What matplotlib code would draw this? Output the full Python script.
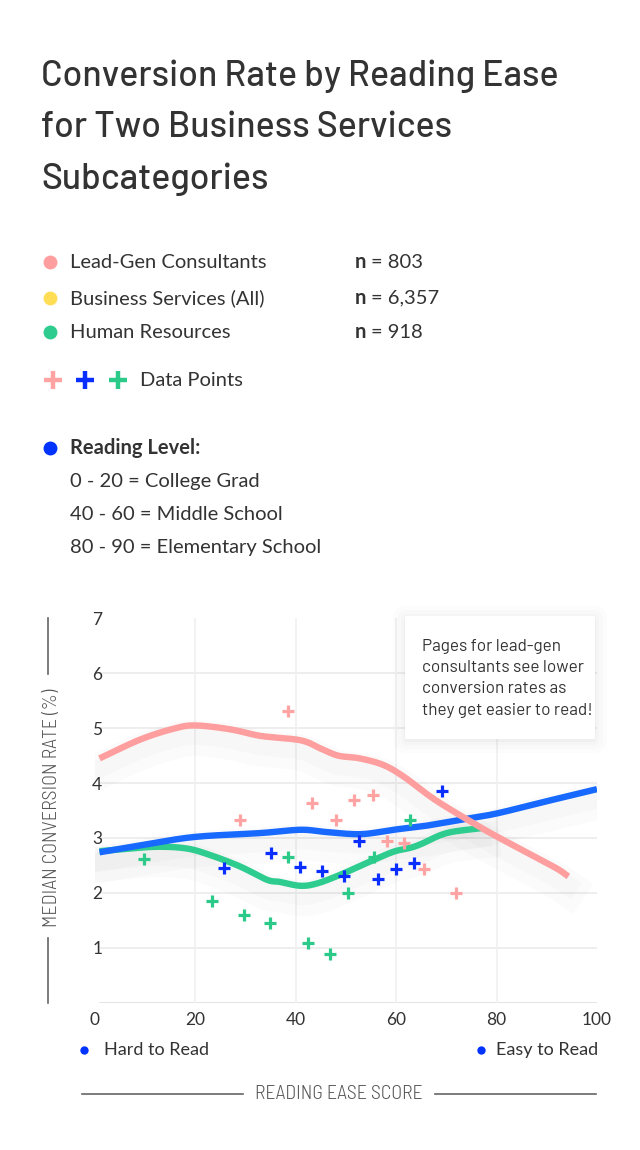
import numpy as np
import matplotlib
matplotlib.use("Agg")
import matplotlib.pyplot as plt
from matplotlib import patheffects as pe
from matplotlib import font_manager as fm
from matplotlib.patches import FancyBboxPatch

# ---------------- data ----------------
leadgen_x = [1, 9, 15.7, 20, 27, 33, 41, 45, 48.5, 52.8, 57.5, 61.5, 66, 69.4, 75.4, 80.2, 91.3, 94.3]
leadgen_y = [4.45, 4.79, 4.99, 5.05, 4.98, 4.86, 4.78, 4.63, 4.5, 4.45, 4.33, 4.12, 3.81, 3.6, 3.27, 3.02, 2.48, 2.30]

allbiz_x = [1, 10, 20, 33, 41, 46, 53, 59.5, 65, 69, 74.7, 80.2, 90, 100]
allbiz_y = [2.74, 2.88, 3.02, 3.09, 3.15, 3.11, 3.07, 3.15, 3.21, 3.27, 3.36, 3.45, 3.67, 3.89]

hr_x = [1, 6, 12.4, 18.3, 23, 29, 34.3, 36.9, 40.9, 44.2, 48.9, 54.8, 59.5, 62.8, 65, 70.1, 77]
hr_y = [2.76, 2.8, 2.84, 2.81, 2.69, 2.48, 2.24, 2.2, 2.13, 2.17, 2.33, 2.57, 2.75, 2.82, 2.89, 3.09, 3.18]

leadgen_pts_x = [38.6, 29.0, 43.3, 48.1, 51.7, 55.4, 58.3, 61.6, 65.6, 71.9]
leadgen_pts_y = [5.31, 3.32, 3.64, 3.33, 3.69, 3.78, 2.95, 2.91, 2.44, 2.00]

allbiz_pts_x = [25.8, 35.2, 40.9, 45.3, 49.7, 52.7, 56.4, 60.0, 63.6, 69.2]
allbiz_pts_y = [2.45, 2.73, 2.48, 2.40, 2.30, 2.95, 2.25, 2.44, 2.54, 3.86]

hr_pts_x = [9.85, 23.4, 29.75, 34.9, 38.6, 42.5, 46.9, 50.4, 55.6, 62.8]
hr_pts_y = [2.61, 1.86, 1.60, 1.46, 2.66, 1.09, 0.89, 2.00, 2.66, 3.32]

series_names = ["Lead-Gen Consultants", "Business Services (All)", "Human Resources"]
series_n = ["803", "6,357", "918"]
reading_levels = ["0 - 20 = College Grad", "40 - 60 = Middle School", "80 - 90 = Elementary School"]
xticks = [0, 20, 40, 60, 80, 100]
yticks = [1, 2, 3, 4, 5, 6, 7]

PINK_LINE, PINK_PT = "#FF9E9E", "#FFA3A3"
BLUE_LINE, BLUE_PT = "#1769FF", "#0A2EFF"
GREEN_LINE, GREEN_PT = "#2ECC8E", "#2BCA88"
YELLOW = "#FFDD55"
DOT_BLUE = "#0033FF"
TXT = "#333333"


def pick_family(cands):
    for c in cands:
        ws = set()
        for f in fm.fontManager.ttflist:
            if f.name == c and f.style == "normal":
                try:
                    ws.add(int(f.weight))
                except (TypeError, ValueError):
                    ws.add({"normal": 400, "regular": 400, "bold": 700}.get(str(f.weight), 0))
        if 400 in ws and 700 in ws:
            return c
    return "DejaVu Sans"


SANS = pick_family(["Source Sans 3", "Source Sans Pro", "Assistant", "Lato", "Open Sans"])
BAR = pick_family(["Barlow", "Roboto"])
BARC = pick_family(["Barlow Semi Condensed", "Barlow Condensed", "Roboto Condensed", "Roboto"])


def smooth(x, y, n=20):
    """Catmull-Rom curve through the given points (display only)."""
    p = np.column_stack([x, y]).astype(float)
    p = np.vstack([2 * p[0] - p[1], p, 2 * p[-1] - p[-2]])
    out = []
    t = np.linspace(0, 1, n, endpoint=False)[:, None]
    for i in range(1, len(p) - 2):
        p0, p1, p2, p3 = p[i - 1], p[i], p[i + 1], p[i + 2]
        seg = 0.5 * ((2 * p1) + (-p0 + p2) * t + (2 * p0 - 5 * p1 + 4 * p2 - p3) * t ** 2
                     + (-p0 + 3 * p1 - 3 * p2 + p3) * t ** 3)
        out.append(seg)
    out.append(p[-2][None, :])
    out = np.vstack(out)
    return out[:, 0], out[:, 1]


W, H = 640, 1150
fig = plt.figure(figsize=(W / 100, H / 100), dpi=100)
fig.patch.set_facecolor("white")
renderer = fig.canvas.get_renderer()

bg = fig.add_axes([0, 0, 1, 1], zorder=0)
bg.set_xlim(0, W)
bg.set_ylim(H, 0)
bg.axis("off")


def fitted_size(text, family, weight, target_px, base=20.0, lo=8, hi=30):
    probe = bg.text(0, 0, text, fontsize=base, family=family, weight=weight)
    wpx = probe.get_window_extent(renderer).width
    probe.remove()
    return float(np.clip(base * target_px / wpx, lo, hi))


# title (size fitted so the first line spans the reference width)
title_lines = ["Conversion Rate by Reading Ease", "for Two Business Services", "Subcategories"]
tsize = fitted_size(title_lines[0], BAR, 500, 518, base=24, hi=27)
for i, t in enumerate(title_lines):
    bg.text(41, 76 + i * 51.5, t, fontsize=tsize, family=BAR, weight=500,
            color=TXT, va="center", ha="left")

# legend
FS = 14.5
leg_y = [262, 298, 332]
leg_cols = [PINK_LINE, YELLOW, GREEN_LINE]
for yy, c, name, n in zip(leg_y, leg_cols, series_names, series_n):
    bg.plot([50], [yy], "o", ms=10, color=c, mec="none")
    bg.text(70, yy, name, fontsize=FS, family=SANS, color=TXT, va="center", ha="left")
    bg.text(355, yy, "n", fontsize=FS, family=SANS, weight="bold", color=TXT, va="center", ha="left")
    bg.text(371, yy, "= " + n, fontsize=FS, family=SANS, color=TXT, va="center", ha="left")

for xx, c in zip([52.5, 84.5, 117.5], [PINK_PT, BLUE_PT, GREEN_PT]):
    bg.plot([xx], [380], "+", ms=13, mew=3.2, color=c)
bg.text(140, 380, "Data Points", fontsize=FS, family=SANS, color=TXT, va="center", ha="left")

bg.plot([50], [448], "o", ms=10, color=DOT_BLUE, mec="none")
bg.text(70, 448, "Reading Level:", fontsize=FS, family=SANS, weight="bold", color=TXT, va="center", ha="left")
for i, t in enumerate(reading_levels):
    bg.text(70, 482 + i * 33, t, fontsize=FS, family=SANS, color=TXT, va="center", ha="left")

# y-axis title with rules
ylab = "MEDIAN CONVERSION RATE (%)"
ysize = fitted_size(ylab, BARC, 300, 238, base=15, hi=19)
bg.text(52, 808, ylab, rotation=90, fontsize=ysize, family=BARC,
        weight=300, color="#555555", va="center", ha="center")
bg.plot([48, 48], [618, 674], color="#666666", lw=1.2)
bg.plot([48, 48], [938, 1003], color="#666666", lw=1.2)

# x-axis footer
bg.plot([84], [1050], "o", ms=6, color=DOT_BLUE, mec="none")
bg.text(104, 1050, "Hard to Read", fontsize=13, family=SANS, color=TXT, va="center", ha="left")
bg.plot([481], [1050], "o", ms=6, color=DOT_BLUE, mec="none")
bg.text(496, 1050, "Easy to Read", fontsize=13, family=SANS, color=TXT, va="center", ha="left")

xlab = "READING EASE SCORE"
xsize = fitted_size(xlab, BARC, 300, 168, base=15, hi=19)
bg.text(338.5, 1094, xlab, fontsize=xsize, family=BARC, weight=300,
        color="#555555", va="center", ha="center")
bg.plot([82, 243], [1094, 1094], color="#666666", lw=1.2)
bg.plot([435, 596], [1094, 1094], color="#666666", lw=1.2)

# ---------------- chart ----------------
x0, x1, y0, y1 = 94.5, 597, 1002.7, 618.4
ax = fig.add_axes([x0 / W, (H - y0) / H, (x1 - x0) / W, (y0 - y1) / H], zorder=1)
ax.set_xlim(0, 100)
ax.set_ylim(0, 7)
ax.patch.set_alpha(0)
for s in ax.spines.values():
    s.set_visible(False)

for gy in range(0, 7):
    ax.plot([1.1, 100], [gy, gy], color="#dedede" if gy == 0 else "#ebebeb", lw=1.2, zorder=1)
for gx in [20, 40, 60, 80]:
    ax.plot([gx, gx], [0, 7], color="#f0f0f0", lw=1.2, zorder=1)

ax.set_xticks(xticks)
ax.set_xticklabels([str(v) for v in xticks])
ax.set_yticks(yticks)
ax.set_yticklabels([str(v) for v in yticks])
ax.tick_params(axis="both", length=0, labelsize=12.5, labelcolor=TXT)
ax.tick_params(axis="y", pad=-5.5)
ax.tick_params(axis="x", pad=7)
for lab in ax.get_xticklabels() + ax.get_yticklabels():
    lab.set_family(SANS)

for xs, ys in [(leadgen_x, leadgen_y), (allbiz_x, allbiz_y), (hr_x, hr_y)]:
    sx, sy = smooth(xs, ys)
    ax.plot(sx, sy, color="white", lw=0.1, alpha=0, zorder=2,
            path_effects=[pe.SimpleLineShadow(offset=(0, -9), shadow_color="#000000", alpha=0.014, linewidth=26),
                          pe.SimpleLineShadow(offset=(0, -7), shadow_color="#000000", alpha=0.014, linewidth=14)])

for xs, ys, col in [(hr_x, hr_y, GREEN_LINE), (allbiz_x, allbiz_y, BLUE_LINE), (leadgen_x, leadgen_y, PINK_LINE)]:
    sx, sy = smooth(xs, ys)
    ax.plot(sx, sy, color=col, lw=4.6, solid_capstyle="butt", zorder=3)

for xs, ys, col in [(leadgen_pts_x, leadgen_pts_y, PINK_PT), (allbiz_pts_x, allbiz_pts_y, BLUE_PT), (hr_pts_x, hr_pts_y, GREEN_PT)]:
    ax.plot(xs, ys, "+", ms=8.5, mew=2.3, color=col, linestyle="none", zorder=5)

# ---------------- annotation box ----------------
top = fig.add_axes([0, 0, 1, 1], zorder=3)
top.set_xlim(0, W)
top.set_ylim(H, 0)
top.axis("off")
bx0, bx1, by0, by1 = 405, 595, 616, 739
for k, a in [(14, 0.010), (10, 0.012), (6, 0.016), (3, 0.022)]:
    top.add_patch(FancyBboxPatch((bx0 - k + 2, by0 - k + 4), bx1 - bx0 + 2 * k - 4, by1 - by0 + 2 * k - 4,
                                 boxstyle="round,pad=0,rounding_size=%d" % k, fc="black", ec="none", alpha=a))
top.add_patch(plt.Rectangle((bx0, by0), bx1 - bx0, by1 - by0, fc="white", ec="none"))
note = ["Pages for lead-gen", "consultants see lower", "conversion rates as", "they get easier to read!"]
for i, t in enumerate(note):
    top.text(421.5, 646.5 + i * 21.2, t, fontsize=12.3, family=BAR, color=TXT, va="center", ha="left")

fig.savefig("out.png", dpi=100, facecolor="white")
